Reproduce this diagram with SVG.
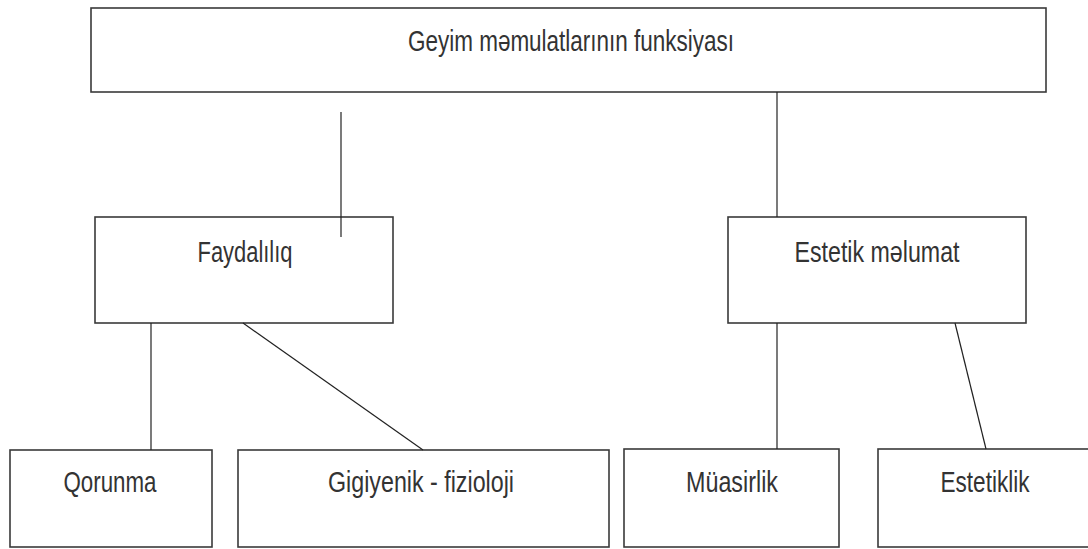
<svg xmlns="http://www.w3.org/2000/svg" width="1088" height="549" viewBox="0 0 1088 549">
<style>
.box{fill:#fff;stroke:#3a3a3a;stroke-width:1.6}
.lbl{font-family:"Liberation Sans",Arial,sans-serif;font-size:29px;fill:#333;text-anchor:middle}
.con line{stroke:#222;stroke-width:1.2}
</style>
<rect width="1088" height="549" fill="#fff"/>
<g id="n-top"><rect class="box" x="91" y="8" width="955" height="84"/><text class="lbl" x="571" y="51" textLength="326" lengthAdjust="spacingAndGlyphs">Geyim məmulatlarının funksiyası</text></g>
<g id="n-faydalilig"><rect class="box" x="95" y="217" width="298" height="106"/><text class="lbl" x="245" y="262" textLength="95" lengthAdjust="spacingAndGlyphs">Faydalılıq</text></g>
<g id="n-estetik"><rect class="box" x="728" y="217" width="298" height="106"/><text class="lbl" x="877" y="262" textLength="165" lengthAdjust="spacingAndGlyphs">Estetik məlumat</text></g>
<g id="n-qorunma"><rect class="box" x="10" y="450" width="202" height="97"/><text class="lbl" x="110" y="492" textLength="93" lengthAdjust="spacingAndGlyphs">Qorunma</text></g>
<g id="n-gigiyenik"><rect class="box" x="238" y="450" width="371" height="97"/><text class="lbl" x="421" y="492" textLength="186" lengthAdjust="spacingAndGlyphs">Gigiyenik - fizioloji</text></g>
<g id="n-muasirlik"><rect class="box" x="624" y="449" width="215" height="98"/><text class="lbl" x="732" y="492" textLength="92" lengthAdjust="spacingAndGlyphs">Müasirlik</text></g>
<g id="n-estetiklik"><rect class="box" x="878" y="449" width="220" height="98"/><text class="lbl" x="985" y="492" textLength="89" lengthAdjust="spacingAndGlyphs">Estetiklik</text></g>
<g id="connectors" class="con">
<line x1="341" y1="112" x2="341" y2="237"/>
<line x1="777" y1="92" x2="777" y2="217"/>
<line x1="151" y1="323" x2="151" y2="450"/>
<line x1="243" y1="323" x2="423" y2="450"/>
<line x1="777" y1="323" x2="777" y2="449"/>
<line x1="955" y1="323" x2="986" y2="449"/>
</g>
</svg>
